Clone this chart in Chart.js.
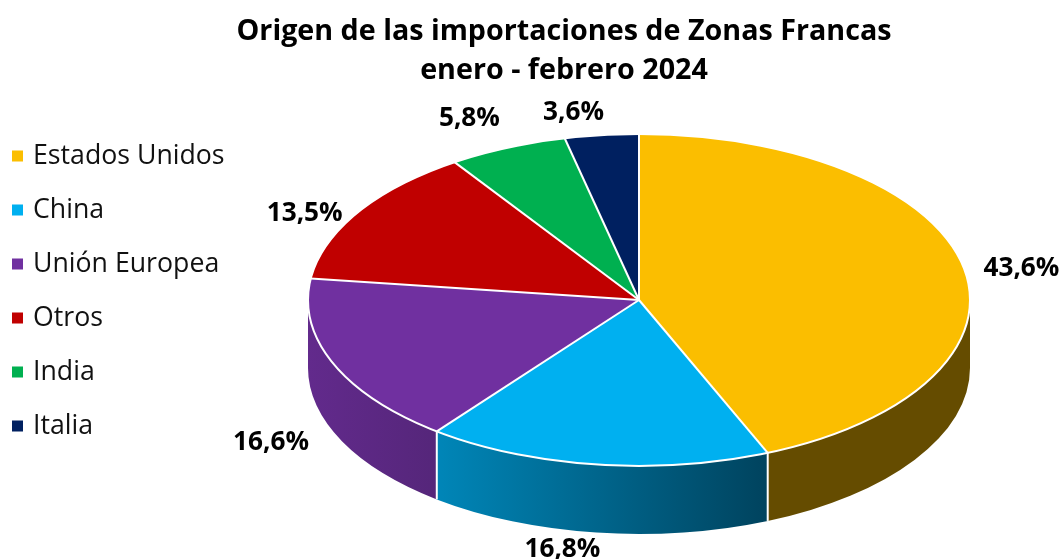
<!DOCTYPE html>
<html>
<head>
<meta charset="utf-8">
<script src="https://cdn.jsdelivr.net/npm/chart.js@4"></script>
<style>
  body { margin: 0; background: #fff; }
</style>
</head>
<body>
<canvas id="pie-chart" width="1062" height="559"></canvas>
<script>
// Data
const categories = ['Estados Unidos', 'China', 'Unión Europea', 'Otros', 'India', 'Italia'];
const shares = [43.6, 16.8, 16.6, 13.5, 5.8, 3.6];
const titleLines = ['Origen de las importaciones de Zonas Francas', 'enero - febrero 2024'];

// Colours
const topColors = ['#FBBE00', '#00B0F0', '#7030A0', '#C00000', '#00B050', '#002060'];
const sideLeft = ['#654C00', '#0086B8', '#622A8C', '#8A0000', '#007A38', '#001540'];
const sideRight = ['#654C00', '#00435E', '#55267A', '#8A0000', '#007A38', '#001540'];

// Layout of the tilted pie
const centerX = 639, centerY = 300, radiusX = 331, radiusY = 166, depth = 68;
// label offset from the rim point at the middle of each slice
const labelNudge = [[58, 1], [-34, 85], [-62, 79], [-53, 1], [-38, -29], [-28, -23]];

function formatShare(v) {
    return v.toFixed(1).replace('.', ',') + '%';
}

const tiltedPie = {
    id: 'tiltedPie',
    afterLayout(chart) {
        // fixed plot box, the pie is squashed to an ellipse at draw time
        chart.chartArea = {
            left: centerX - radiusY, right: centerX + radiusY,
            top: centerY - radiusY, bottom: centerY + radiusY,
            width: radiusY * 2, height: radiusY * 2
        };
        const labels = chart.options.plugins.legend.labels;
        chart.titleBlock.left = 66;
        chart.titleBlock.right = 1062;
        chart.legend.left = 15.35 - labels.padding;
        chart.legend.top = 156 - labels.font.size / 2 - labels.padding;
        chart.legend.bottom = 559;
    },
    beforeDatasetsDraw(chart) {
        const ctx = chart.ctx;
        const arcs = chart.getDatasetMeta(0).data;

        // side wall, only the front half of the rim shows
        arcs.forEach((arc, i) => {
            const from = Math.max(arc.startAngle, 0);
            const to = Math.min(arc.endAngle, Math.PI);
            if (to <= from) return;
            const x1 = centerX + radiusX * Math.cos(from);
            const x2 = centerX + radiusX * Math.cos(to);
            const grad = ctx.createLinearGradient(Math.min(x1, x2), 0, Math.max(x1, x2), 0);
            grad.addColorStop(0, sideLeft[i]);
            grad.addColorStop(1, sideRight[i]);
            ctx.beginPath();
            ctx.ellipse(centerX, centerY, radiusX, radiusY, 0, from, to);
            ctx.ellipse(centerX, centerY + depth, radiusX, radiusY, 0, to, from, true);
            ctx.closePath();
            ctx.fillStyle = grad;
            ctx.fill();
        });

        // white seams on the wall
        ctx.strokeStyle = '#fff';
        ctx.lineWidth = 2;
        arcs.forEach(arc => {
            const a = arc.endAngle;
            if (a <= 0 || a >= Math.PI) return;
            const x = centerX + radiusX * Math.cos(a);
            const y = centerY + radiusY * Math.sin(a);
            ctx.beginPath();
            ctx.moveTo(x, y);
            ctx.lineTo(x, y + depth);
            ctx.stroke();
        });

        ctx.save();
        ctx.translate(centerX, centerY);
        ctx.scale(radiusX / radiusY, 1);
        ctx.translate(-centerX, -centerY);
    },
    afterDatasetsDraw(chart) {
        const ctx = chart.ctx;
        const arcs = chart.getDatasetMeta(0).data;
        ctx.restore();

        // slice borders and rim, stroked without the squash
        ctx.strokeStyle = '#fff';
        ctx.lineWidth = 2;
        arcs.forEach(arc => {
            ctx.beginPath();
            ctx.moveTo(centerX, centerY);
            ctx.lineTo(centerX + radiusX * Math.cos(arc.endAngle), centerY + radiusY * Math.sin(arc.endAngle));
            ctx.stroke();
        });
        ctx.beginPath();
        ctx.ellipse(centerX, centerY, radiusX, radiusY, 0, 0, Math.PI * 2);
        ctx.stroke();

        // value labels
        ctx.fillStyle = '#000';
        ctx.font = 'bold 26.2px "Open Sans"';
        ctx.textAlign = 'center';
        ctx.textBaseline = 'middle';
        arcs.forEach((arc, i) => {
            const mid = (arc.startAngle + arc.endAngle) / 2;
            const x = centerX + radiusX * Math.cos(mid) + labelNudge[i][0];
            const y = centerY + radiusY * Math.sin(mid) + labelNudge[i][1];
            ctx.fillText(formatShare(shares[i]), x, y);
        });
    }
};

const ctx = document.getElementById('pie-chart').getContext('2d');
new Chart(ctx, {
    type: 'pie',
    data: {
        labels: categories,
        datasets: [{
            data: shares,
            backgroundColor: topColors,
            borderWidth: 0,
            clip: false
        }]
    },
    options: {
        responsive: false,
        animation: false,
        plugins: {
            title: {
                display: true,
                text: titleLines,
                color: '#000',
                font: { family: '"Open Sans"', size: 28.7, weight: 'bold', lineHeight: 1.36 },
                padding: { top: 12, bottom: 0 }
            },
            legend: {
                display: true,
                position: 'left',
                align: 'start',
                labels: {
                    usePointStyle: true,
                    pointStyle: 'rect',
                    boxWidth: 4.3,
                    boxHeight: 11,
                    padding: 27.3,
                    color: '#111',
                    font: { family: '"Open Sans"', size: 26.7 }
                }
            },
            tooltip: { enabled: false }
        }
    },
    plugins: [tiltedPie]
});
</script>
</body>
</html>
